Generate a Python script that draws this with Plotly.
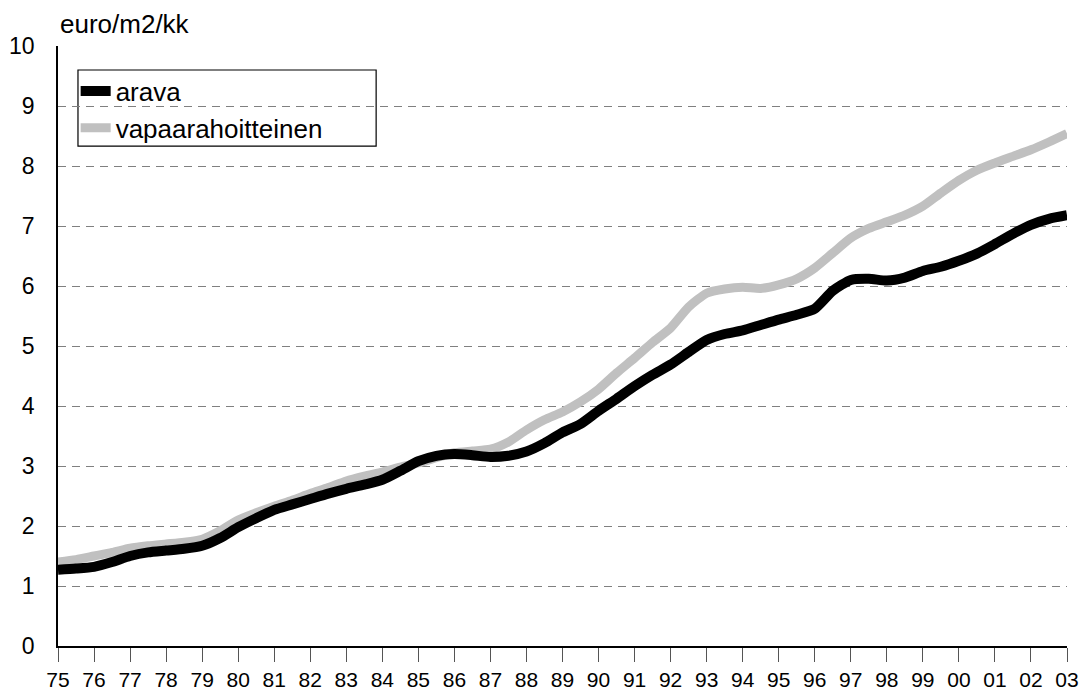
import plotly.graph_objects as go

# --- data, half-year steps 1975 .. 2003 ---
years = [1975.0, 1975.5, 1976.0, 1976.5, 1977.0, 1977.5, 1978.0, 1978.5, 1979.0, 1979.5,
         1980.0, 1980.5, 1981.0, 1981.5, 1982.0, 1982.5, 1983.0, 1983.5, 1984.0, 1984.5,
         1985.0, 1985.5, 1986.0, 1986.5, 1987.0, 1987.5, 1988.0, 1988.5, 1989.0, 1989.5,
         1990.0, 1990.5, 1991.0, 1991.5, 1992.0, 1992.5, 1993.0, 1993.5, 1994.0, 1994.5,
         1995.0, 1995.5, 1996.0, 1996.5, 1997.0, 1997.5, 1998.0, 1998.5, 1999.0, 1999.5,
         2000.0, 2000.5, 2001.0, 2001.5, 2002.0, 2002.5, 2003.0]

arava = [1.27, 1.29, 1.32, 1.40, 1.50, 1.56, 1.59, 1.62, 1.67, 1.80,
         1.98, 2.13, 2.27, 2.36, 2.45, 2.54, 2.62, 2.69, 2.77, 2.92,
         3.08, 3.17, 3.20, 3.18, 3.15, 3.17, 3.24, 3.38, 3.56, 3.70,
         3.92, 4.12, 4.33, 4.52, 4.69, 4.90, 5.10, 5.20, 5.26, 5.35,
         5.44, 5.52, 5.62, 5.92, 6.10, 6.12, 6.09, 6.14, 6.25, 6.32,
         6.42, 6.54, 6.70, 6.87, 7.02, 7.12, 7.18]

vapaarahoitteinen = [1.40, 1.44, 1.50, 1.56, 1.63, 1.67, 1.70, 1.73, 1.78, 1.92,
                     2.10, 2.22, 2.33, 2.43, 2.54, 2.64, 2.75, 2.83, 2.90, 2.98,
                     3.05, 3.14, 3.22, 3.25, 3.28, 3.40, 3.60, 3.77, 3.90, 4.07,
                     4.28, 4.55, 4.80, 5.06, 5.30, 5.65, 5.88, 5.95, 5.98, 5.96,
                     6.02, 6.12, 6.30, 6.55, 6.80, 6.96, 7.07, 7.18, 7.33, 7.55,
                     7.76, 7.93, 8.05, 8.16, 8.27, 8.40, 8.54]

tick_years = list(range(1975, 2004))
tick_labels = ["75", "76", "77", "78", "79", "80", "81", "82", "83", "84", "85", "86",
               "87", "88", "89", "90", "91", "92", "93", "94", "95", "96", "97", "98",
               "99", "00", "01", "02", "03"]
y_ticks = list(range(0, 11))

FONT = "Arial, 'Liberation Sans', sans-serif"

fig = go.Figure()
fig.add_trace(go.Scatter(
    x=years, y=vapaarahoitteinen, mode="lines", name="vapaarahoitteinen",
    line=dict(color="#c0c0c0", width=9, shape="spline", smoothing=0.6),
    legendrank=2, legendgroup="b",
))
fig.add_trace(go.Scatter(
    x=years, y=arava, mode="lines", name="arava",
    line=dict(color="#000000", width=10, shape="spline", smoothing=0.6),
    legendrank=1, legendgroup="a",
))

fig.update_layout(
    width=1081, height=690,
    margin=dict(l=58, r=14, t=46, b=44, autoexpand=False),
    paper_bgcolor="white", plot_bgcolor="white",
    font=dict(family=FONT, size=21, color="black"),
    showlegend=True,
    legend=dict(
        x=0.0175, y=0.964, xanchor="left", yanchor="top",
        xref="paper", yref="paper",
        bgcolor="rgba(0,0,0,0)", borderwidth=0,
        font=dict(family=FONT, size=26, color="black"),
        traceorder="grouped", tracegroupgap=0,
        itemwidth=30,
    ),
    xaxis=dict(
        range=[1975, 2003],
        tickmode="array", tickvals=tick_years, ticktext=tick_labels,
        ticks="outside", ticklen=14, tickwidth=1, tickcolor="#555555",
        showgrid=False, zeroline=False,
        showline=True, linecolor="black", linewidth=1.5,
        tickfont=dict(family=FONT, size=21, color="black"),
        ticklabelstandoff=0,
        automargin=False, fixedrange=True,
    ),
    yaxis=dict(
        range=[0, 10],
        tickmode="array", tickvals=y_ticks,
        ticks="", showgrid=True, gridcolor="#808080", gridwidth=1, griddash="8px,6px",
        zeroline=False,
        showline=True, linecolor="black", linewidth=1.5,
        tickfont=dict(family=FONT, size=23, color="black"),
        ticklabelstandoff=17,
        automargin=False, fixedrange=True,
    ),
    shapes=[dict(
        type="rect", xref="paper", yref="paper",
        x0=0.0198, x1=0.3153, y0=0.8332, y1=0.9600,
        line=dict(color="black", width=1.2), fillcolor="white", layer="below",
    )],
    annotations=[dict(
        text="euro/m2/kk", xref="paper", yref="paper", x=0, y=1,
        xanchor="left", yanchor="bottom", yshift=5, showarrow=False,
        font=dict(family=FONT, size=26, color="black"),
    )],
)

fig.write_html(
    "out.html",
    config={"displayModeBar": False},
    post_script="document.body.style.margin='0px';document.body.style.padding='0px';",
)
